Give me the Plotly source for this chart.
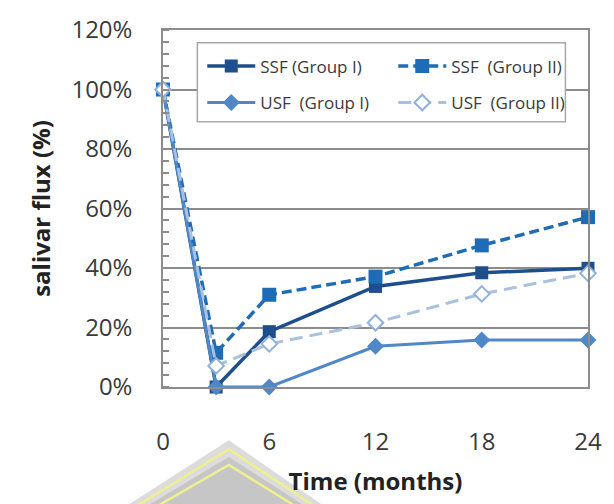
import plotly.graph_objects as go

# Follow-up times (months) and salivary flow as % of baseline
months = [0, 3, 6, 12, 18, 24]
ssf_group1 = [100, 0, 18.6, 33.8, 38.4, 39.9]
ssf_group2 = [100, 11.5, 31.0, 37.1, 47.6, 57.1]
usf_group1 = [100, 0, 0, 13.7, 15.8, 15.8]
usf_group2 = [100, 7.1, 14.5, 21.6, 31.3, 38.2]

x_tick_vals = [0, 6, 12, 18, 24]
y_tick_vals = [0, 20, 40, 60, 80, 100, 120]
y_tick_text = [f"{v}%" for v in y_tick_vals]

FONT = "Open Sans, Lato, sans-serif"
TXT = "#3a3a3a"
GRID = "#8c8c8c"

fig = go.Figure()

# SSF rows go in the first legend row, USF in the second
fig.add_trace(go.Scatter(
    x=months, y=ssf_group1, name="SSF (Group I)", mode="lines+markers",
    line=dict(color="#1f4e8c", width=3.5),
    marker=dict(symbol="square", size=13, color="#1f4e8c"),
    cliponaxis=False, legend="legend",
))
fig.add_trace(go.Scatter(
    x=months, y=ssf_group2, name="SSF  (Group II)", mode="lines+markers",
    line=dict(color="#1f6cb6", width=3.5, dash="10px,5px"),
    marker=dict(symbol="square", size=14, color="#1f6cb6"),
    cliponaxis=False, legend="legend",
))
fig.add_trace(go.Scatter(
    x=months, y=usf_group1, name="USF  (Group I)", mode="lines+markers",
    line=dict(color="#4f87c7", width=3),
    marker=dict(symbol="diamond", size=13, color="#4f87c7"),
    cliponaxis=False, legend="legend2",
))
fig.add_trace(go.Scatter(
    x=months, y=usf_group2, name="USF  (Group II)", mode="lines+markers",
    line=dict(color="#a9c1df", width=3, dash="13px,7px"),
    marker=dict(symbol="diamond", size=12, color="white",
                line=dict(color="#8fb0d8", width=2)),
    cliponaxis=False, legend="legend2",
))

# Pixel -> paper conversions for the fixed 614x504 canvas
def px(xp):
    return (xp - 163) / 433

def py(yp):
    return (387 - yp) / 362

shapes = []

# Background emblem in the lower left corner
for (ax, ay, hw, fill, line) in [
    (230, 441, 112, "#dcdcdc", None),
    (230, 450, 102, "rgba(0,0,0,0)", "#efef90"),
    (230, 458, 92, "#c6c6c6", None),
    (230, 466, 82, "rgba(0,0,0,0)", "#efef90"),
]:
    path = (f"M {px(ax - hw * 1.02)} {py(504 + 10)} L {px(ax)} {py(ay)} "
            f"L {px(ax + hw * 0.95)} {py(504 + 10)} Z")
    shapes.append(dict(
        type="path", xref="paper", yref="paper", path=path, layer="below",
        fillcolor=fill,
        line=dict(color=line if line else fill, width=2.5 if line else 0),
    ))

# Frame around both legend rows
shapes.append(dict(
    type="rect", xref="paper", yref="paper",
    x0=px(198), x1=px(573), y0=py(118), y1=py(38),
    fillcolor="white", line=dict(color="#a8a8a8", width=1.5), layer="above",
))

legend_common = dict(
    orientation="h", xanchor="left", yanchor="middle",
    entrywidth=128, itemwidth=48, bgcolor="rgba(0,0,0,0)", borderwidth=0,
    font=dict(family=FONT, size=17, color=TXT), traceorder="normal",
)

fig.update_layout(
    width=614, height=504,
    margin=dict(l=163, r=18, t=25, b=117),
    paper_bgcolor="white", plot_bgcolor="white",
    font=dict(family=FONT, color=TXT),
    shapes=shapes,
    showlegend=True,
    legend=dict(x=px(203), y=py(62), **legend_common),
    legend2=dict(x=px(203), y=py(99), **legend_common),
    xaxis=dict(
        range=[0, 24], tickvals=x_tick_vals, ticktext=[str(v) for v in x_tick_vals],
        showgrid=False, zeroline=False,
        showline=True, linecolor=GRID, linewidth=1.5, mirror=True,
        ticks="", ticklabelstandoff=32,
        tickfont=dict(family=FONT, size=24, color=TXT),
        title=dict(text="<b>Time (months)</b>", standoff=18,
                   font=dict(family=FONT, size=24, color="#222")),
    ),
    yaxis=dict(
        range=[0, 120], tickvals=y_tick_vals, ticktext=y_tick_text,
        showgrid=True, gridcolor=GRID, gridwidth=1.5, zeroline=False,
        showline=True, linecolor=GRID, linewidth=1.5, mirror=True,
        ticks="", ticklabelstandoff=24,
        tickfont=dict(family=FONT, size=24, color=TXT),
        minor=dict(dtick=4, ticks="inside", ticklen=6, tickcolor=GRID,
                   tickwidth=1.5, showgrid=False),
        title=dict(text="<b>salivar flux (%)</b>", standoff=14,
                   font=dict(family=FONT, size=24, color="#222")),
    ),
)

fig.write_html("out.html")
